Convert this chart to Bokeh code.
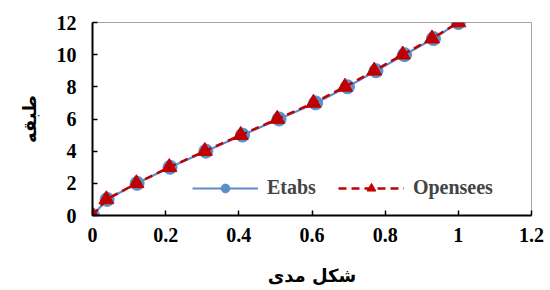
from bokeh.plotting import figure
from bokeh.embed import file_html
from bokeh.resources import INLINE
from bokeh.models import FixedTicker, CustomJSTickFormatter, Legend, LegendItem, Range1d

floors = [0, 1, 2, 3, 4, 5, 6, 7, 8, 9, 10, 11, 12]
etabs = [0.0, 0.04, 0.122, 0.212, 0.31, 0.41, 0.51, 0.61, 0.697, 0.775, 0.853, 0.932, 1.0]
opensees = [0.0, 0.038, 0.12, 0.21, 0.307, 0.405, 0.505, 0.604, 0.69, 0.77, 0.848, 0.928, 1.0]
x_ticks = [0, 0.2, 0.4, 0.6, 0.8, 1.0, 1.2]
y_ticks = [0, 2, 4, 6, 8, 10, 12]
x_title = "شکل مدی"
y_title = "طبقه"

p = figure(width=548, height=288, output_backend="svg", toolbar_location=None,
           x_range=Range1d(0, 1.2), y_range=Range1d(0, 12),
           min_border_left=92, min_border_right=17, min_border_top=22, min_border_bottom=72)
p.grid.visible = False
p.outline_line_color = "#A6A6A6"
p.outline_line_width = 1

blue = "#5B8FCB"
red = "#C00000"

l1 = p.line(etabs, floors, line_color=blue, line_width=2.2)
m1 = p.scatter(etabs, floors, marker="circle", size=14, fill_color=blue, line_color=blue)
l2 = p.line(opensees, floors, line_color=red, line_width=2.5, line_dash="8 5")
m2 = p.scatter(opensees, floors, marker="triangle", size=15, fill_color=red, line_color=red)

font = "Liberation Serif"
for ax in (p.xaxis[0], p.yaxis[0]):
    ax.axis_line_color = "black"
    ax.axis_line_width = 2
    ax.major_tick_in = 5
    ax.major_tick_out = 0
    ax.major_tick_line_width = 1.5
    ax.minor_tick_line_color = None
    ax.major_label_text_font = font
    ax.major_label_text_font_style = "bold"
    ax.major_label_text_font_size = "20px"
    ax.major_label_text_color = "black"
    ax.axis_label_text_font = "DejaVu Sans"
    ax.axis_label_text_font_style = "bold"
    ax.axis_label_text_font_size = "18px"
    ax.axis_label_text_color = "black"

p.xaxis.ticker = FixedTicker(ticks=x_ticks)
p.yaxis.ticker = FixedTicker(ticks=y_ticks)
p.xaxis.formatter = CustomJSTickFormatter(code="return tick.toFixed(1).replace(/\\.0$/, '');")
p.yaxis.formatter = CustomJSTickFormatter(code="return tick.toFixed(0);")
p.xaxis.major_label_standoff = 12
p.yaxis.major_label_standoff = 16
p.xaxis.axis_label = x_title
p.yaxis.axis_label = y_title
p.xaxis.axis_label_standoff = 20
p.yaxis.axis_label_standoff = 14

legend = Legend(items=[LegendItem(label="Etabs", renderers=[l1, m1]),
                       LegendItem(label="Opensees", renderers=[l2, m2])],
                orientation="horizontal", location=(100, 16),
                glyph_width=66, glyph_height=22, label_text_font=font,
                label_text_font_style="bold", label_text_font_size="20px",
                border_line_color=None, background_fill_alpha=0,
                spacing=22, padding=4, label_standoff=9)
p.add_layout(legend)

open("out.html", "w").write(file_html(p, INLINE))
